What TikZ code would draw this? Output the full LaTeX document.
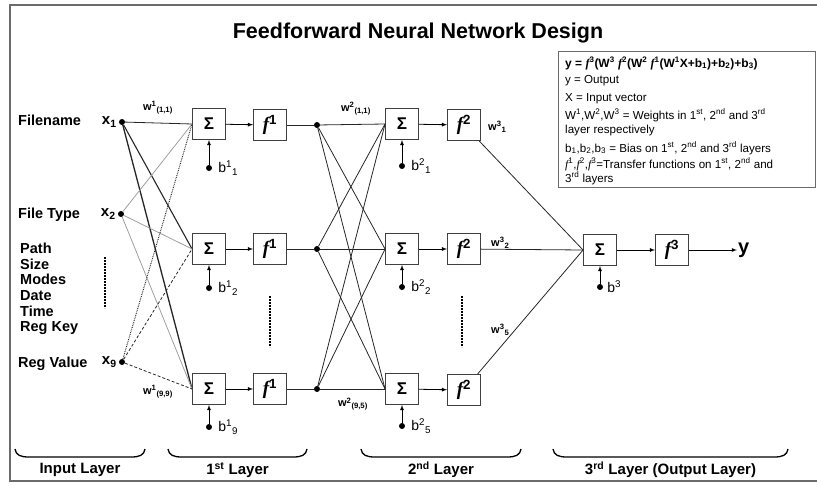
\documentclass[tikz,border=0pt]{standalone}
\usepackage{fontspec}
\setmainfont{Liberation Sans}
\newfontfamily\ffont{Liberation Serif}
\usepackage{tikz}
\usetikzlibrary{arrows, positioning, calc}
\definecolor{framegray}{rgb}{0.42, 0.42, 0.42}
\definecolor{linkgray}{rgb}{0.62, 0.62, 0.62}
\newcommand{\fsym}[1]{{\ffont\bfseries\itshape f}\textsuperscript{\bfseries #1}}

\tikzset{
  unitbox/.style={draw=black!75, line width=0.9pt, fill=white, minimum width=33pt, minimum height=31pt, inner sep=0pt},
  sumbox/.style={unitbox, font=\bfseries\fontsize{17}{17}\selectfont},
  funbox/.style={unitbox, font=\fontsize{19}{19}\selectfont},
  dot/.style={circle, fill=black, inner sep=0pt, minimum size=6pt},
  inname/.style={anchor=base west, inner sep=0pt, font=\bfseries\fontsize{14.5}{14.5}\selectfont},
  xname/.style={inner sep=0pt, font=\bfseries\fontsize{15}{15}\selectfont},
  wname/.style={inner sep=1pt, font=\bfseries\fontsize{11}{11}\selectfont},
  bname/.style={anchor=west, inner sep=0pt, font=\fontsize{14}{14}\selectfont},
  legname/.style={anchor=base west, inner sep=0pt, font=\fontsize{11.6}{11.6}\selectfont},
  layername/.style={inner sep=0pt, font=\bfseries\fontsize{15}{15}\selectfont},
  link/.style={line width=0.8pt, black!85},
  biaslink/.style={line width=0.8pt, -latex},
  fwdlink/.style={line width=0.8pt, -latex}
}

\begin{document}
\begin{tikzpicture}[x=1pt, y=-1pt]
  \useasboundingbox (0,0) rectangle (817,487);
  \pgfmathsetmacro{\rowa}{124}
  \pgfmathsetmacro{\rowb}{249}
  \pgfmathsetmacro{\rowc}{389}

  % frame and title
  \draw[framegray, line width=1.3pt] (817,5) -- (10,5) -- (10,481) -- (817,481);
  \node[font=\bfseries\fontsize{21.5}{21.5}\selectfont] (title) at (418,33) {Feedforward Neural Network Design};

  % input layer
  \node[inname] (filename) at (18,125) {Filename};
  \node[inname] (filetype) at (18,218) {File Type};
  \node[inname] (path) at (20,253) {Path};
  \node[inname] (size) at (20,269) {Size};
  \node[inname] (modes) at (20,284.5) {Modes};
  \node[inname] (date) at (20,300) {Date};
  \node[inname] (time) at (20,316) {Time};
  \node[inname] (regkey) at (20,331.5) {Reg Key};
  \node[inname] (regvalue) at (18,367) {Reg Value};
  \draw[line width=2pt, densely dotted] (105,257) -- (105,308);

  \node[dot] (in1) at (122,122) {};
  \node[dot] (in2) at (121,214) {};
  \node[dot] (in9) at (122,362) {};
  \node[xname, left=2pt of in1] (x1) {x\textsubscript{1}};
  \node[xname, left=2pt of in2] (x2) {x\textsubscript{2}};
  \node[xname, left=2pt of in9] (x9) {x\textsubscript{9}};

  % 1st layer
  \node[sumbox] (s11) at (209,\rowa) {Σ};
  \node[sumbox] (s12) at (209,\rowb) {Σ};
  \node[sumbox] (s19) at (209,\rowc) {Σ};
  \node[funbox] (f11) at (270,\rowa+1) {\fsym{1}};
  \node[funbox] (f12) at (270,\rowb) {\fsym{1}};
  \node[funbox] (f19) at (270,\rowc) {\fsym{1}};
  \draw[line width=2pt, densely dotted] (270,296) -- (270,347);

  \draw[link] (in1) -- (s11.west);
  \draw[link, line width=1.1pt] (in1) -- (s12.west);
  \draw[link, line width=1.3pt] (in1) -- (s19.west);
  \draw[link, linkgray] (in2) -- (s11.west);
  \draw[link, linkgray] (in2) -- (s12.west);
  \draw[link, linkgray] (in2) -- (s19.west);
  \draw[link, densely dotted, line width=1pt] (in9) -- (s11.west);
  \draw[link, densely dashed] (in9) -- (s12.west);
  \draw[link, densely dashed] (in9) -- (s19.west);
  \node[wname] (w111) at (158,108) {w\textsuperscript{1}\textsubscript{(1,1)}};
  \node[wname] (w199) at (158,392) {w\textsuperscript{1}\textsubscript{(9,9)}};

  \node[dot] (b11) at (209,\rowa+44) {};
  \node[dot] (b12) at (209,\rowb+39) {};
  \node[dot] (b19) at (209,\rowc+38) {};
  \draw[biaslink] (b11) -- (s11);
  \draw[biaslink] (b12) -- (s12);
  \draw[biaslink] (b19) -- (s19);
  \node[bname, right=6pt of b11] (lb11) {b\textsuperscript{1}\textsubscript{1}};
  \node[bname, right=6pt of b12] (lb12) {b\textsuperscript{1}\textsubscript{2}};
  \node[bname, right=6pt of b19] (lb19) {b\textsuperscript{1}\textsubscript{9}};

  \draw[fwdlink] (s11) -- (f11);
  \draw[fwdlink] (s12) -- (f12);
  \draw[fwdlink] (s19) -- (f19);

  % 2nd layer
  \node[dot] (h1) at (317,\rowa+1) {};
  \node[dot] (h2) at (317,\rowb) {};
  \node[dot] (h5) at (317,\rowc) {};
  \draw[link] (f11) -- (h1);
  \draw[link] (f12) -- (h2);
  \draw[link] (f19) -- (h5);

  \node[sumbox] (s21) at (402,\rowa) {Σ};
  \node[sumbox] (s22) at (402,\rowb) {Σ};
  \node[sumbox] (s25) at (402,\rowc) {Σ};
  \node[funbox] (f21) at (464,\rowa+1) {\fsym{2}};
  \node[funbox] (f22) at (464,\rowb) {\fsym{2}};
  \node[funbox] (f25) at (464,\rowc+1) {\fsym{2}};
  \draw[line width=2pt, densely dotted] (462,296) -- (462,347);

  \foreach \a in {1,2,5}
    \foreach \b in {1,2,5}
      \draw[link] (h\a) -- (s2\b.west);
  \node[wname] (w211) at (356,109) {w\textsuperscript{2}\textsubscript{(1,1)}};
  \node[wname] (w295) at (353,404) {w\textsuperscript{2}\textsubscript{(9,5)}};

  \node[dot] (b21) at (402,\rowa+42) {};
  \node[dot] (b22) at (402,\rowb+38) {};
  \node[dot] (b25) at (402,\rowc+37) {};
  \draw[biaslink] (b21) -- (s21);
  \draw[biaslink] (b22) -- (s22);
  \draw[biaslink] (b25) -- (s25);
  \node[bname, right=6pt of b21] (lb21) {b\textsuperscript{2}\textsubscript{1}};
  \node[bname, right=6pt of b22] (lb22) {b\textsuperscript{2}\textsubscript{2}};
  \node[bname, right=6pt of b25] (lb25) {b\textsuperscript{2}\textsubscript{5}};

  \draw[fwdlink] (s21) -- (f21);
  \draw[fwdlink] (s22) -- (f22);
  \draw[fwdlink] (s25) -- (f25);

  % 3rd layer
  \node[sumbox] (s3) at (600,\rowb+1) {Σ};
  \node[funbox] (f3) at (672,\rowb+1) {\fsym{3}};
  \node[font=\bfseries\fontsize{20}{20}\selectfont, inner sep=1pt, right=48pt of f3] (yout) {y};
  \draw[link] (f21) -- (s3.west);
  \draw[link] (f22) -- (s3.west);
  \draw[link] (f25) -- (s3.west);
  \draw[fwdlink] (s3) -- (f3);
  \draw[fwdlink] (f3) -- (yout);
  \node[wname, anchor=west] (w31) at (487,127) {w\textsuperscript{3}\textsubscript{1}};
  \node[wname, anchor=west] (w32) at (490,243) {w\textsuperscript{3}\textsubscript{2}};
  \node[wname, anchor=west] (w35) at (490,330) {w\textsuperscript{3}\textsubscript{5}};
  \node[dot] (b3) at (600,287) {};
  \draw[biaslink] (b3) -- (s3);
  \node[bname, right=4pt of b3] (lb3) {b\textsuperscript{3}};

  % legend
  \draw[framegray, line width=1pt, fill=white] (558,52) rectangle (815,187);
  \node[legname, font=\bfseries\fontsize{12}{12}\selectfont] (leg1) at (565,67)
    {y = \fsym{3}(W\textsuperscript{3} \fsym{2}(W\textsuperscript{2} \fsym{1}(W\textsuperscript{1}X+b\textsubscript{1})+b\textsubscript{2})+b\textsubscript{3})};
  \node[legname] (leg2) at (565,84) {y = Output};
  \node[legname] (leg3) at (565,102) {X = Input vector};
  \node[legname] (leg4) at (565,119) {W\textsuperscript{1},W\textsuperscript{2},W\textsuperscript{3} = Weights in 1\textsuperscript{st}, 2\textsuperscript{nd} and 3\textsuperscript{rd}};
  \node[legname] (leg5) at (565,133) {layer respectively};
  \node[legname] (leg6) at (565,152) {b\textsubscript{1},b\textsubscript{2},b\textsubscript{3} = Bias on 1\textsuperscript{st}, 2\textsuperscript{nd} and 3\textsuperscript{rd} layers};
  \node[legname] (leg7) at (565,168) {{\ffont\itshape f}\textsuperscript{1},{\ffont\itshape f}\textsuperscript{2},{\ffont\itshape f}\textsuperscript{3}=Transfer functions on 1\textsuperscript{st}, 2\textsuperscript{nd} and};
  \node[legname] (leg8) at (565,182) {3\textsuperscript{rd} layers};

  % layer braces
  \foreach \xa/\xb/\nm/\lab in {15/145/inlayer/{Input Layer}, 168/307/firstlayer/{1\textsuperscript{st} Layer},
                                 361/521/secondlayer/{2\textsuperscript{nd} Layer}, 553/788/thirdlayer/{3\textsuperscript{rd} Layer (Output Layer)}} {
    \draw[line width=1.3pt] (\xa,449) .. controls (\xa+1,455) and (\xa+5,457) .. (\xa+14,457)
      -- (\xb-14,457) .. controls (\xb-5,457) and (\xb-1,455) .. (\xb,449);
    \node[layername] (\nm) at ({(\xa+\xb)/2},470) {\lab};
  }
\end{tikzpicture}
\end{document}
